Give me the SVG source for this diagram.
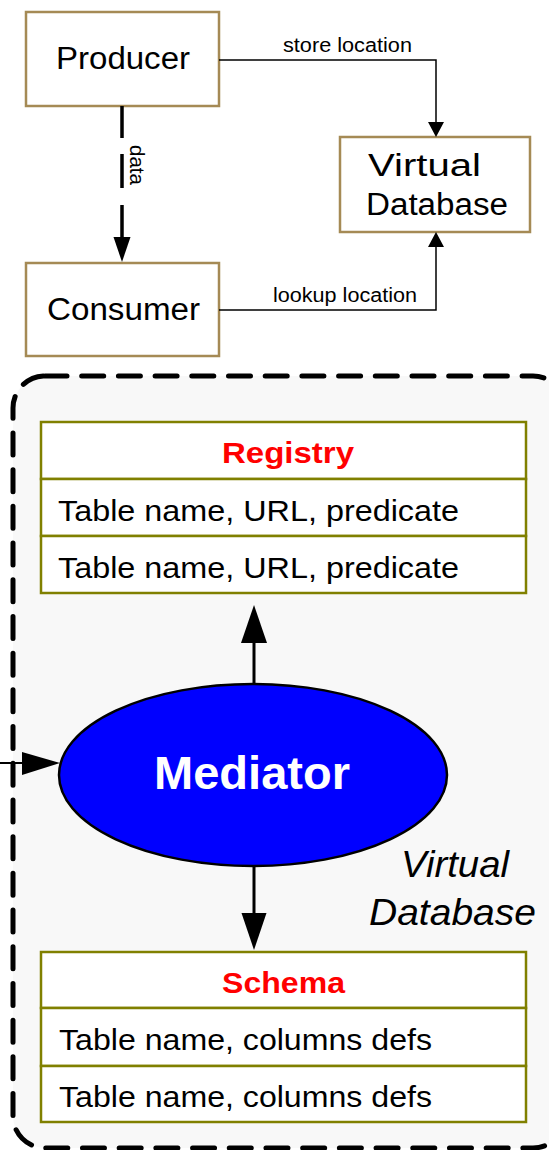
<svg xmlns="http://www.w3.org/2000/svg" width="549" height="1150" viewBox="0 0 549 1150">
<defs>
<style>
.box{fill:#fff;stroke:#a58a55;stroke-width:2.5}
.tbl{fill:#fff;stroke:#808000;stroke-width:2.5}
.t{font-family:"Liberation Sans",Arial,sans-serif;fill:#000;font-size:31px}
.lbl{font-family:"Liberation Sans",Arial,sans-serif;font-size:20px;fill:#000}
.hdr{font-family:"Liberation Sans",Arial,sans-serif;font-size:29px;font-weight:bold;fill:#ff0000}
.row{font-family:"Liberation Sans",Arial,sans-serif;font-size:29px;fill:#000}
.ln{fill:none;stroke:#000;stroke-width:1.5}
</style>
</defs>
<g id="container">
<rect x="13" y="376" width="552" height="772" rx="32" ry="32" fill="#f8f8f8" stroke="#000" stroke-width="5" stroke-dasharray="22,14.7" stroke-linecap="round"/>
</g>
<g id="producer">
<rect class="box" x="26" y="12" width="193" height="94"/>
<text class="t" x="56" y="69" textLength="134" lengthAdjust="spacingAndGlyphs">Producer</text>
</g>
<g id="consumer">
<rect class="box" x="26" y="263" width="193" height="93"/>
<text class="t" x="47" y="320" textLength="153" lengthAdjust="spacingAndGlyphs">Consumer</text>
</g>
<g id="virtualdb">
<rect class="box" x="340" y="137" width="190" height="95"/>
<text class="t" x="368" y="176" textLength="113" lengthAdjust="spacingAndGlyphs">Virtual</text>
<text class="t" x="366" y="215" textLength="142" lengthAdjust="spacingAndGlyphs">Database</text>
</g>
<g id="registry">
<rect class="tbl" x="41" y="422" width="485" height="57"/>
<rect class="tbl" x="41" y="479" width="485" height="57"/>
<rect class="tbl" x="41" y="536" width="485" height="57"/>
<text class="hdr" x="222" y="463" textLength="132" lengthAdjust="spacingAndGlyphs">Registry</text>
<text class="row" x="58" y="521" textLength="401" lengthAdjust="spacingAndGlyphs">Table name, URL, predicate</text>
<text class="row" x="58" y="578" textLength="401" lengthAdjust="spacingAndGlyphs">Table name, URL, predicate</text>
</g>
<g id="mediator">
<ellipse cx="253" cy="775" rx="194" ry="91" fill="#0000ff" stroke="#000" stroke-width="2.5"/>
<text x="154" y="789" font-family="Liberation Sans,Arial,sans-serif" font-size="46" font-weight="bold" fill="#fff" textLength="196" lengthAdjust="spacingAndGlyphs">Mediator</text>
</g>
<g id="vdb-label">
<text x="401" y="877" font-family="Liberation Sans,Arial,sans-serif" font-size="37" font-style="italic" textLength="108" lengthAdjust="spacingAndGlyphs">Virtual</text>
<text x="369" y="925" font-family="Liberation Sans,Arial,sans-serif" font-size="37" font-style="italic" textLength="167" lengthAdjust="spacingAndGlyphs">Database</text>
</g>
<g id="schema">
<rect class="tbl" x="41" y="952" width="485" height="56"/>
<rect class="tbl" x="41" y="1008" width="485" height="58"/>
<rect class="tbl" x="41" y="1066" width="485" height="56"/>
<text class="hdr" x="222" y="993" textLength="123" lengthAdjust="spacingAndGlyphs">Schema</text>
<text class="row" x="59" y="1050" textLength="373" lengthAdjust="spacingAndGlyphs">Table name, columns defs</text>
<text class="row" x="59" y="1107" textLength="373" lengthAdjust="spacingAndGlyphs">Table name, columns defs</text>
</g>
<g id="connectors">
<polyline class="ln" points="219,60 436,60 436,124"/>
<path d="M428,122 L444,122 L436,137 z" fill="#000"/>
<text class="lbl" x="283" y="52" textLength="129" lengthAdjust="spacingAndGlyphs">store location</text>
<polyline class="ln" points="219,310 436,310 436,246"/>
<path d="M428,247 L444,247 L436,232 z" fill="#000"/>
<text class="lbl" x="273" y="302" textLength="144" lengthAdjust="spacingAndGlyphs">lookup location</text>
<line x1="122" y1="106" x2="122" y2="240" stroke="#000" stroke-width="3.5" stroke-dasharray="32,16,34,17"/>
<path d="M113.5,237 L130.5,237 L122,262 z" fill="#000"/>
<text class="lbl" x="0" y="0" transform="translate(130,145) rotate(90)" textLength="40" lengthAdjust="spacingAndGlyphs">data</text>
<line x1="254" y1="684" x2="254" y2="640" stroke="#000" stroke-width="3"/>
<path d="M241,643 L267,643 L254,605 z" fill="#000"/>
<line x1="254" y1="866" x2="254" y2="916" stroke="#000" stroke-width="3"/>
<path d="M241.5,913 L266.5,913 L254,950 z" fill="#000"/>
<line x1="0" y1="763" x2="25" y2="763" stroke="#000" stroke-width="2"/>
<path d="M22,752 L22,775 L60,763 z" fill="#000"/>
</g>
</svg>
